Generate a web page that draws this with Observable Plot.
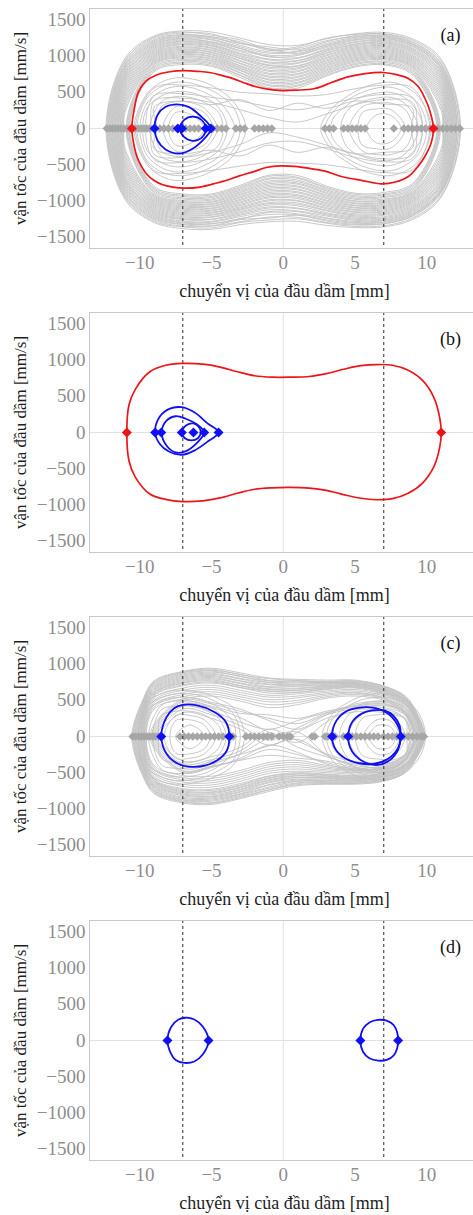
<!DOCTYPE html>
<html><head><meta charset="utf-8">
<script src="https://cdn.jsdelivr.net/npm/d3@7"></script>
<script src="https://cdn.jsdelivr.net/npm/@observablehq/plot@0.6"></script>
<style>
html,body{margin:0;padding:0;background:#fff;}
#chart{width:473px;}
#chart svg{display:block;font-family:"Liberation Serif",serif;}
</style>
</head><body><div id="chart"></div>
<script>
// ---------- axes / labels ----------
const xTicks = [-10, -5, 0, 5, 10];
const yTicks = [-1500, -1000, -500, 0, 500, 1000, 1500];
const dashedX = [-7, 7];
const xLabel = "chuyển vị của đầu dầm [mm]";
const yLabel = "vận tốc của đầu dầm [mm/s]";
const panelTags = ["(a)", "(b)", "(c)", "(d)"];

// ---------- sampling grids (displacement, mm) ----------
const gridA = [-11, -9, -7, -5, -3, -1, 1, 3, 5, 7, 9, 11];
const gridL = [-9.5, -8.5, -7.5, -6.5, -5.5, -4.5, -3.5];
const gridR = [3.5, 4.5, 5.5, 6.5, 7.5, 8.5, 9.5];
const gridC = [-9.8, -9, -7, -5, -3, -1, 1, 3, 5, 7, 8.5, 9.3];

// ---------- panel (a): gray trajectories  [xLeft, xRight, upper v, lower v] ----------
const grayA_big = [
  [-12.35,12.35,[980,1280,1350,1335,1250,1160,1150,1240,1310,1330,1240,960],[-990,-1300,-1385,-1395,-1330,-1290,-1285,-1340,-1370,-1360,-1260,-950]],
  [-12.3,12.3,[950,1265,1335,1290,1225,1100,1130,1250,1300,1310,1220,930],[-965,-1285,-1360,-1375,-1300,-1265,-1250,-1310,-1355,-1345,-1240,-930]],
  [-12.25,12.2,[925,1250,1320,1310,1180,1130,1090,1200,1285,1305,1200,900],[-945,-1265,-1350,-1350,-1290,-1225,-1230,-1300,-1335,-1320,-1215,-895]],
  [-12.2,12.2,[900,1230,1300,1270,1200,1080,1110,1215,1270,1290,1185,885],[-925,-1250,-1330,-1345,-1260,-1240,-1200,-1280,-1325,-1315,-1205,-880]],
  [-12.15,12.1,[880,1215,1290,1260,1150,1060,1070,1180,1260,1280,1170,860],[-900,-1235,-1320,-1320,-1245,-1190,-1195,-1265,-1310,-1300,-1190,-865]],
  [-12.1,12.1,[860,1200,1275,1255,1175,1100,1040,1160,1245,1270,1160,850],[-885,-1220,-1305,-1315,-1255,-1160,-1180,-1245,-1300,-1290,-1180,-855]],
  [-12.05,12.05,[835,1185,1265,1235,1130,1040,1060,1150,1230,1255,1145,830],[-860,-1205,-1295,-1295,-1220,-1150,-1150,-1235,-1285,-1275,-1165,-840]],
  [-12.0,12.0,[815,1170,1250,1225,1110,1015,1025,1135,1220,1245,1135,815],[-840,-1190,-1280,-1285,-1200,-1125,-1140,-1210,-1270,-1265,-1150,-825]],
  [-11.95,11.95,[790,1155,1240,1200,1105,990,1010,1120,1200,1230,1115,790],[-815,-1175,-1260,-1260,-1185,-1100,-1110,-1195,-1255,-1250,-1135,-800]],
  [-11.9,11.9,[770,1140,1225,1195,1080,1000,980,1100,1190,1215,1100,775],[-800,-1160,-1250,-1255,-1165,-1085,-1100,-1180,-1240,-1235,-1120,-785]],
  [-11.85,11.85,[745,1125,1210,1180,1065,960,970,1085,1170,1200,1085,750],[-775,-1145,-1235,-1230,-1150,-1060,-1070,-1165,-1225,-1220,-1105,-765]],
  [-11.8,11.8,[725,1110,1200,1165,1040,950,940,1070,1160,1190,1070,730],[-755,-1130,-1220,-1220,-1130,-1040,-1050,-1140,-1210,-1200,-1090,-745]],
  [-11.75,11.75,[700,1095,1185,1150,1030,920,935,1050,1145,1175,1055,705],[-730,-1115,-1205,-1200,-1115,-1025,-1030,-1130,-1195,-1185,-1075,-720]],
  [-11.7,11.7,[675,1080,1170,1140,1010,905,910,1040,1130,1160,1040,680],[-710,-1100,-1190,-1190,-1100,-1000,-1005,-1110,-1180,-1170,-1060,-700]],
  [-11.65,11.65,[650,1065,1160,1120,995,880,900,1020,1115,1145,1020,655],[-690,-1085,-1175,-1170,-1085,-985,-995,-1095,-1160,-1155,-1040,-670]],
  [-11.6,11.6,[620,1050,1140,1110,975,870,870,1005,1100,1130,1005,625],[-660,-1070,-1160,-1160,-1065,-960,-970,-1075,-1150,-1140,-1025,-645]],
  [-11.55,11.55,[590,1035,1125,1090,965,850,860,985,1085,1115,990,600],[-630,-1055,-1145,-1140,-1050,-945,-950,-1060,-1130,-1125,-1010,-615]],
  [-11.5,11.5,[560,1020,1110,1080,940,830,840,970,1070,1100,975,570],[-600,-1040,-1130,-1130,-1030,-925,-930,-1040,-1120,-1110,-995,-590]],
  [-11.45,11.45,[530,1005,1095,1060,930,805,825,950,1055,1085,960,540],[-570,-1025,-1115,-1110,-1015,-905,-915,-1025,-1100,-1095,-980,-560]],
  [-11.4,11.4,[495,990,1080,1050,905,790,800,935,1040,1070,945,505],[-540,-1010,-1100,-1100,-995,-885,-890,-1005,-1090,-1080,-965,-530]],
  [-11.35,11.35,[460,975,1065,1030,895,765,785,915,1025,1055,930,470],[-505,-995,-1085,-1080,-980,-865,-875,-990,-1070,-1065,-950,-495]],
  [-11.3,11.3,[420,960,1050,1020,870,750,760,900,1010,1040,915,430],[-470,-980,-1070,-1070,-960,-845,-850,-970,-1060,-1050,-935,-460]],
  [-11.25,11.25,[380,945,1035,1000,860,725,745,880,995,1025,900,390],[-430,-965,-1055,-1050,-945,-825,-835,-955,-1040,-1035,-920,-420]],
  [-11.2,11.2,[340,930,1020,990,840,710,720,865,980,1010,885,350],[-390,-950,-1040,-1040,-925,-805,-810,-935,-1030,-1020,-905,-380]],
  [-11.15,11.15,[290,915,1005,970,830,685,705,845,965,995,870,300],[-340,-935,-1025,-1020,-910,-785,-795,-920,-1010,-1005,-890,-330]],
  [-11.1,11.1,[240,900,990,960,810,670,680,830,950,980,855,250],[-290,-920,-1010,-1010,-890,-765,-770,-900,-1000,-990,-875,-280]],
  [-10.95,10.95,[null,885,975,940,800,645,665,810,935,965,840,null],[null,-900,-995,-990,-875,-745,-755,-885,-980,-975,-860,null]],
  [-10.9,10.9,[null,865,955,930,775,630,640,795,920,950,820,null],[null,-880,-975,-975,-855,-725,-735,-865,-965,-955,-840,null]],
  [-10.85,10.85,[null,845,940,910,765,605,625,775,900,930,800,null],[null,-860,-960,-955,-840,-700,-715,-850,-945,-940,-820,null]],
  [-10.8,10.8,[null,825,920,895,740,590,600,760,885,915,780,null],[null,-840,-940,-940,-820,-685,-690,-830,-930,-920,-800,null]],
  [-10.75,10.75,[null,805,905,875,730,565,585,740,865,895,760,null],[null,-820,-925,-920,-805,-660,-675,-815,-910,-905,-780,null]],
  [-10.7,10.7,[null,785,885,860,705,550,560,725,850,880,740,null],[null,-800,-905,-905,-785,-645,-650,-795,-895,-885,-760,null]]
];
const grayA_cross = [
  [-10.3,10.2,[null,560,600,560,500,480,450,470,550,600,560,null],[null,-580,-620,-580,-520,-470,-480,-500,-560,-610,-570,null]],
  [-9.6,9.7,[null,450,480,430,380,300,260,330,420,470,420,null],[null,-430,-470,-420,-320,-200,-180,-280,-400,-460,-410,null]],
  [-9.2,9.3,[null,380,420,360,260,150,90,200,330,400,360,null],[null,-360,-400,-330,-220,-60,-120,-230,-350,-420,-360,null]],
  [-8.8,8.9,[null,300,380,330,400,250,350,280,380,340,280,null],[null,-280,-350,-300,-380,-230,-330,-260,-350,-330,-270,null]]
];
const grayA_left = [
  [-10.4,-2.6,[480,640,700,690,640,540,380],[-500,-660,-720,-700,-640,-540,-380]],
  [-10.2,-3.0,[420,580,640,630,570,470,300],[-440,-600,-650,-640,-580,-470,-300]],
  [-10.0,-3.4,[350,520,580,570,500,380,null],[-370,-540,-600,-585,-510,-390,null]],
  [-9.8,-3.9,[280,450,510,500,430,290,null],[-300,-470,-530,-515,-440,-300,null]],
  [-9.3,-4.2,[null,370,440,430,360,220,null],[null,-390,-455,-445,-370,-230,null]],
  [-8.9,-4.6,[null,300,370,360,280,null,null],[null,-310,-385,-375,-290,null,null]],
  [-8.4,-4.9,[null,null,300,290,220,null,null],[null,null,-310,-300,-225,null,null]],
  [-8.0,-5.5,[null,null,220,200,null,null,null],[null,null,-230,-210,null,null,null]]
];
const grayA_right = [
  [2.6,10.3,[300,450,560,620,640,580,420],[-320,-470,-580,-640,-650,-590,-430]],
  [2.9,10.0,[240,400,500,560,570,500,320],[-260,-420,-520,-575,-585,-510,-330]],
  [3.3,9.7,[150,330,440,490,500,420,180],[-160,-345,-455,-505,-510,-430,-190]],
  [4.0,9.4,[null,260,370,420,430,340,null],[null,-270,-385,-435,-440,-350,null]],
  [4.6,9.0,[null,null,300,350,350,260,null],[null,null,-310,-360,-360,-270,null]],
  [5.2,8.5,[null,null,220,270,260,null,null],[null,null,-230,-280,-270,null,null]],
  [5.8,8.2,[null,null,null,190,180,null,null],[null,null,null,-200,-185,null,null]]
];
const redA = [[-10.56,0],[-10.4,250],[-10.1,500],[-9.6,650],[-8.87,737],[-7.9,785],[-6.9,800],[-5.9,790],[-5.15,775],[-4.3,735],[-3.5,690],[-2.7,630],[-1.9,577],[-1.0,540],[-0.1,525],[0.9,530],[2.2,553],[3.4,640],[4.5,715],[5.7,760],[6.97,775],[7.9,745],[8.71,692],[9.4,580],[9.87,415],[10.2,250],[10.46,0],[10.3,-200],[9.86,-387],[9.4,-520],[8.71,-664],[7.8,-740],[6.85,-765],[5.5,-720],[4.05,-664],[2.9,-590],[1.73,-549],[0.8,-525],[-0.13,-516],[-1.2,-540],[-2.1,-600],[-3.06,-655],[-4.0,-720],[-4.68,-757],[-5.8,-810],[-6.9,-826],[-7.7,-810],[-8.4,-779],[-9.0,-720],[-9.57,-618],[-10.0,-480],[-10.27,-341],[-10.45,-180]];
const blueA1 = [[-8.97,0],[-8.75,190],[-8.2,300],[-7.4,335],[-6.6,300],[-5.8,180],[-5.05,0],[-5.7,-180],[-6.5,-300],[-7.3,-346],[-8.2,-290],[-8.75,-170]];
const blueA2 = [[-7.2,0],[-6.9,120],[-6.3,165],[-5.7,120],[-5.4,0],[-5.7,-130],[-6.3,-170],[-6.9,-120]];
const grayDiaA = [-12.3,-12.1,-11.9,-11.7,-11.5,-11.3,-11.1,-10.9,-10.7,-10.3,-10.1,-9.9,-9.7,-9.5,-9.3,-8.6,-8.3,-8.0,-7.7,-6.8,-6.5,-6.2,-5.9,-4.9,-4.6,-4.3,-4.0,-3.3,-3.0,-2.7,-2.0,-1.7,-1.4,-1.1,-0.8,2.9,3.2,3.5,4.2,4.5,4.8,5.1,5.4,5.7,7.7,8.4,8.7,9.0,9.3,9.6,9.9,10.2,10.5,10.8,11.1,11.4,11.7,12.0,12.3];
const redDiaA = [-10.55, 10.46];
const blueDiaA = [-8.97, -7.35, -7.05, -5.4, -5.05];

// ---------- panel (b) ----------
const redB = [[-10.9,0],[-10.75,380],[-10.3,600],[-9.3,840],[-8.2,930],[-7.0,955],[-5.6,945],[-4.4,905],[-3.2,840],[-2.0,785],[-0.8,765],[0.5,765],[1.8,775],[3.0,815],[4.2,875],[5.4,925],[6.5,940],[7.6,930],[8.7,860],[9.7,720],[10.5,480],[10.9,200],[11.0,0],[10.9,-200],[10.5,-470],[9.7,-700],[8.7,-840],[7.6,-915],[6.5,-930],[5.4,-910],[4.2,-860],[3.0,-800],[1.8,-770],[0.5,-760],[-0.8,-765],[-2.0,-785],[-3.2,-840],[-4.4,-905],[-5.6,-945],[-7.0,-955],[-8.2,-925],[-9.3,-850],[-10.3,-620],[-10.75,-390]];
const blueB1 = [[-8.93,0],[-8.6,220],[-7.9,330],[-7.1,350],[-6.2,280],[-5.3,130],[-4.51,0],[-5.3,-130],[-6.2,-250],[-7.07,-308],[-8.0,-260],[-8.6,-160]];
const blueB2 = [[-8.47,0],[-8.15,160],[-7.5,225],[-6.8,190],[-6.0,110],[-5.51,0],[-6.0,-140],[-6.7,-250],[-7.4,-280],[-8.1,-190]];
const blueB3 = [[-7.07,0],[-6.75,100],[-6.26,125],[-5.9,80],[-5.75,0],[-5.95,-80],[-6.4,-110],[-6.85,-80]];
const redDiaB = [-10.9, 11.0];
const blueDiaB = [-8.93, -8.5, -7.07, -6.26, -5.51, -4.51];

// ---------- panel (c) ----------
const grayC_big = [
  [-10.55,9.85,[500,770,900,945,880,810,790,780,780,700,560,330],[-540,-790,-920,-940,-860,-760,-680,-660,-660,-620,-500,-290]],
  [-10.5,9.82,[480,755,890,930,855,800,775,765,770,695,550,315],[-520,-775,-905,-925,-845,-735,-665,-650,-650,-610,-490,-280]],
  [-10.45,9.8,[460,740,880,915,860,775,770,755,760,690,540,300],[-500,-760,-895,-915,-830,-740,-650,-640,-645,-600,-480,-270]],
  [-10.4,9.77,[440,725,865,905,830,770,750,750,750,680,530,290],[-480,-745,-880,-895,-815,-715,-640,-630,-630,-590,-470,-260]],
  [-10.35,9.75,[420,710,850,890,835,750,755,745,745,670,520,280],[-460,-735,-870,-880,-800,-700,-620,-625,-630,-580,-460,-250]],
  [-10.3,9.72,[400,695,835,875,805,745,725,740,735,660,510,270],[-440,-715,-855,-865,-790,-675,-615,-610,-615,-570,-450,-240]],
  [-10.25,9.7,[380,680,820,860,795,725,720,730,730,650,500,260],[-420,-700,-840,-850,-770,-665,-600,-605,-610,-560,-440,-230]],
  [-10.2,9.67,[360,665,805,845,770,715,700,720,725,645,495,250],[-400,-685,-820,-835,-760,-640,-590,-590,-600,-555,-430,-220]],
  [-10.15,9.65,[340,650,790,830,765,690,695,705,720,640,490,240],[-380,-670,-805,-825,-740,-630,-570,-580,-590,-550,-420,-210]],
  [-10.1,9.62,[315,635,775,815,740,680,670,700,710,630,480,230],[-360,-655,-795,-805,-730,-610,-565,-570,-585,-540,-410,-200]],
  [-10.05,9.6,[290,620,760,800,730,660,660,690,700,620,470,220],[-340,-640,-780,-790,-710,-600,-545,-560,-575,-530,-400,-190]],
  [-10.0,9.57,[260,605,745,785,705,650,640,680,695,615,460,210],[-315,-625,-765,-775,-700,-580,-540,-550,-565,-520,-395,-180]],
  [-9.95,9.55,[null,590,735,770,700,630,640,670,690,610,450,200],[null,-610,-750,-765,-680,-570,-520,-540,-560,-510,-390,-170]],
  [-9.9,9.52,[null,575,715,755,680,625,615,660,680,600,440,190],[null,-595,-735,-745,-670,-550,-515,-530,-550,-505,-380,-160]],
  [-9.85,9.5,[null,560,700,740,675,600,610,650,670,590,430,180],[null,-580,-720,-730,-650,-545,-500,-520,-540,-500,-370,-150]],
  [-9.8,9.45,[null,530,670,710,640,570,590,630,650,580,410,160],[null,-550,-690,-700,-620,-510,-480,-500,-520,-480,-350,-130]],
  [-9.75,9.4,[null,500,640,680,610,545,560,610,630,560,390,null],[null,-520,-660,-670,-590,-480,-450,-480,-500,-460,-330,null]],
  [-9.7,9.35,[null,470,610,650,580,510,535,590,610,540,370,null],[null,-490,-630,-640,-560,-450,-420,-460,-480,-440,-310,null]],
  [-9.65,9.3,[null,440,580,620,550,480,500,570,600,530,350,null],[null,-460,-600,-610,-530,-420,-390,-440,-470,-430,-290,null]],
  [-9.6,9.25,[null,410,550,590,520,440,470,550,580,520,330,null],[null,-430,-570,-580,-500,-390,-360,-420,-460,-420,-270,null]],
  [-9.55,9.2,[null,380,520,560,490,400,440,530,560,500,310,null],[null,-400,-540,-550,-470,-360,-330,-400,-440,-400,-250,null]]
];
const grayC_cross = [
  [-9.3,9.2,[null,null,520,470,380,220,100,300,450,480,350,null],[null,null,-500,-430,-300,-120,-220,-380,-470,-490,-330,null]],
  [-9.0,9.0,[null,null,450,400,260,60,-80,200,400,430,300,null],[null,null,-440,-380,-240,-20,60,-250,-420,-450,-310,null]],
  [-8.8,8.8,[null,null,380,300,150,-50,120,300,380,350,250,null],[null,null,-380,-320,-200,50,-150,-280,-380,-380,-260,null]],
  [-9.1,9.1,[null,null,480,420,320,300,250,350,420,450,320,null],[null,null,-470,-410,-330,-260,-300,-340,-430,-460,-320,null]],
  [-8.6,8.6,[null,null,330,250,100,-120,60,250,340,330,230,null],[null,null,-340,-280,-150,100,-60,-240,-350,-350,-240,null]],
  [-9.2,9.1,[null,null,500,450,350,250,180,320,430,460,330,null],[null,null,-480,-420,-320,-180,-250,-360,-450,-470,-320,null]],
  [-8.9,8.9,[null,null,420,350,200,100,220,330,400,400,290,null],[null,null,-410,-350,-250,-130,-40,-260,-400,-420,-290,null]]
];
const grayC_left = [
  [-10.1,-2.7,[470,590,640,630,600,520,400],[-490,-620,-660,-650,-610,-530,-400]],
  [-9.9,-3.0,[410,540,590,590,550,460,320],[-430,-560,-610,-600,-560,-470,-330]],
  [-9.7,-3.3,[350,490,540,540,500,400,200],[-370,-510,-560,-550,-510,-410,-210]],
  [-9.4,-3.6,[null,430,490,490,440,330,null],[null,-450,-510,-500,-450,-340,null]],
  [-9.1,-4.0,[null,370,420,420,370,250,null],[null,-390,-440,-430,-380,-260,null]],
  [-8.7,-4.3,[null,290,350,350,300,150,null],[null,-300,-365,-360,-310,-160,null]],
  [-8.3,-4.7,[null,null,290,290,230,null,null],[null,null,-300,-300,-240,null,null]],
  [-7.9,-5.1,[null,null,220,230,160,null,null],[null,null,-230,-240,-170,null,null]],
  [-7.5,-5.5,[null,null,null,160,null,null,null],[null,null,null,-170,null,null,null]]
];
const grayC_right = [
  [2.7,9.9,[330,470,560,590,580,510,300],[-350,-490,-570,-600,-590,-500,-280]],
  [3.0,9.6,[260,420,510,540,530,450,170],[-280,-440,-520,-550,-540,-440,-160]],
  [3.3,9.4,[150,360,450,490,480,390,null],[-160,-370,-460,-500,-490,-400,null]],
  [3.9,9.1,[null,290,390,430,420,320,null],[null,-300,-400,-440,-430,-330,null]],
  [4.5,8.8,[null,null,320,370,360,240,null],[null,null,-330,-380,-370,-250,null]],
  [5.0,8.5,[null,null,250,300,290,null,null],[null,null,-260,-310,-300,null,null]],
  [5.6,8.1,[null,null,null,230,210,null,null],[null,null,null,-240,-220,null,null]],
  [6.0,7.8,[null,null,null,150,130,null,null],[null,null,null,-160,-140,null,null]]
];
const blueC1 = [[-8.5,0],[-8.15,260],[-7.6,390],[-7.0,437],[-6.0,430],[-4.8,340],[-4.0,200],[-3.76,0],[-3.95,-200],[-4.6,-330],[-5.4,-400],[-6.3,-420],[-7.3,-380],[-8.1,-250]];
const blueC2 = [[3.4,0],[3.7,220],[4.4,350],[5.2,396],[6.2,400],[7.2,330],[7.9,180],[8.18,0],[7.9,-190],[7.2,-320],[6.3,-380],[5.3,-370],[4.3,-300],[3.65,-180]];
const blueC3 = [[4.52,0],[4.8,200],[5.5,320],[6.2,360],[7.0,364],[7.7,280],[8.1,150],[8.18,0],[8.0,-180],[7.4,-330],[6.6,-393],[5.7,-360],[5.0,-260],[4.65,-150]];
const grayDiaC = [-10.5,-10.3,-10.1,-9.9,-9.7,-9.5,-9.3,-9.1,-8.9,-8.7,-7.2,-6.9,-6.6,-6.3,-6.0,-5.7,-5.4,-5.1,-4.8,-4.5,-4.2,-3.5,-2.6,-2.3,-2.0,-1.7,-1.4,-1.1,-0.8,-0.3,0,0.3,0.5,2.0,2.2,2.9,3.1,3.6,4.2,4.8,5.1,5.4,5.7,6.0,6.3,6.6,7.0,7.3,7.6,7.9,8.4,8.7,9.0,9.3,9.6,9.8];
const blueDiaC = [-8.5, -3.76, 3.4, 4.52, 8.18];

// ---------- panel (d) ----------
const blueD1 = [[-8.07,0],[-7.8,190],[-7.3,290],[-6.8,315],[-6.2,290],[-5.6,190],[-5.21,0],[-5.6,-190],[-6.2,-290],[-6.9,-310],[-7.5,-270],[-7.85,-170]];
const blueD2 = [[5.37,0],[5.55,160],[6.0,250],[6.6,285],[7.2,275],[7.7,210],[8.0,0],[7.7,-205],[7.2,-268],[6.6,-278],[6.0,-245],[5.55,-155]];
const blueDiaD = [-8.07, -5.21, 5.37, 8.0];

// ---------- builders ----------
function loopRows(grid, loops, key) {
  const rows = [];
  loops.forEach(([xl, xr, up, lo], i) => {
    const id = key + i;
    rows.push({x: xl, v: 0, id});
    grid.forEach((g, j) => { if (up[j] != null) rows.push({x: g, v: up[j], id}); });
    rows.push({x: xr, v: 0, id});
    for (let j = grid.length - 1; j >= 0; j--) if (lo[j] != null) rows.push({x: grid[j], v: lo[j], id});
  });
  return rows;
}
function ptRows(list) {
  const rows = [];
  list.forEach((pts, i) => pts.forEach(([x, v]) => rows.push({x, v, id: i})));
  return rows;
}
const dia = xs => xs.map(x => ({x, v: 0}));
const fmt = d => (d < 0 ? "\u2212" : "") + Math.abs(d);

const FONT = "Liberation Serif";

function panel(tag, gray, red, blue, grayDia, redDia, blueDia) {
  const marks = [
    Plot.ruleX([0], {stroke: "#e2e2e2", strokeWidth: 1}),
    Plot.ruleY([0], {stroke: "#e2e2e2", strokeWidth: 1}),
    Plot.line(gray, {x: "x", y: "v", z: "id", curve: "catmull-rom-closed", stroke: "#c2c2c2", strokeWidth: 0.9, clip: true}),
    Plot.dot(dia(grayDia), {x: "x", y: "v", symbol: "diamond2", r: 3.8, fill: "#a6a6a6", stroke: "none"}),
    Plot.ruleX(dashedX, {stroke: "#2a2a2a", strokeWidth: 1, strokeDasharray: "3,3"}),
    Plot.line(red, {x: "x", y: "v", z: "id", curve: "catmull-rom-closed", stroke: "#ef1418", strokeWidth: 1.7}),
    Plot.line(blue, {x: "x", y: "v", z: "id", curve: "catmull-rom-closed", stroke: "#1010f5", strokeWidth: 1.8}),
    Plot.dot(dia(redDia), {x: "x", y: "v", symbol: "diamond2", r: 4.5, fill: "#ef1418", stroke: "none"}),
    Plot.dot(dia(blueDia), {x: "x", y: "v", symbol: "diamond2", r: 4.5, fill: "#1010f5", stroke: "none"}),
    Plot.frame({stroke: "#c9c9c9", strokeWidth: 1}),
    Plot.axisX(xTicks, {tickSize: 0, tickPadding: 7, color: "#8e8e8e", fontSize: 19, fontFamily: FONT, tickFormat: fmt, label: null}),
    Plot.axisY(yTicks, {tickSize: 0, tickPadding: 4, color: "#8e8e8e", fontSize: 19, fontFamily: FONT, tickFormat: fmt, label: null}),
    Plot.text([xLabel], {text: d => d, frameAnchor: "bottom", textAnchor: "middle", lineAnchor: "middle", dx: 3, dy: 43, fontSize: 18, fontFamily: FONT, fill: "#1e1e1e"}),
    Plot.text([yLabel], {text: d => d, frameAnchor: "left", textAnchor: "middle", lineAnchor: "middle", dx: -69, rotate: -90, fontSize: 17, fontFamily: FONT, fill: "#1e1e1e"}),
    Plot.text([tag], {text: d => d, frameAnchor: "top-right", textAnchor: "middle", lineAnchor: "middle", dx: -23, dy: 27, fontSize: 18, fontFamily: FONT, fill: "#111"})
  ];
  return Plot.plot({
    width: 473, height: 304,
    marginLeft: 89, marginRight: 0, marginTop: 8, marginBottom: 56,
    style: {fontFamily: FONT, background: "#fff"},
    x: {domain: [-13.5, 13.25]},
    y: {domain: [-1660, 1660]},
    marks
  });
}

const root = document.getElementById("chart");
root.append(panel(panelTags[0],
  [...loopRows(gridA, grayA_big, "b"), ...loopRows(gridA, grayA_cross, "x"), ...loopRows(gridL, grayA_left, "l"), ...loopRows(gridR, grayA_right, "r")],
  ptRows([redA]), ptRows([blueA1, blueA2]), grayDiaA, redDiaA, blueDiaA));
root.append(panel(panelTags[1], [], ptRows([redB]), ptRows([blueB1, blueB2, blueB3]), [], redDiaB, blueDiaB));
root.append(panel(panelTags[2],
  [...loopRows(gridC, grayC_big, "b"), ...loopRows(gridC, grayC_cross, "x"), ...loopRows(gridL, grayC_left, "l"), ...loopRows(gridR, grayC_right, "r")],
  [], ptRows([blueC1, blueC2, blueC3]), grayDiaC, [], blueDiaC));
root.append(panel(panelTags[3], [], [], ptRows([blueD1, blueD2]), [], [], blueDiaD));
</script>
</body></html>
